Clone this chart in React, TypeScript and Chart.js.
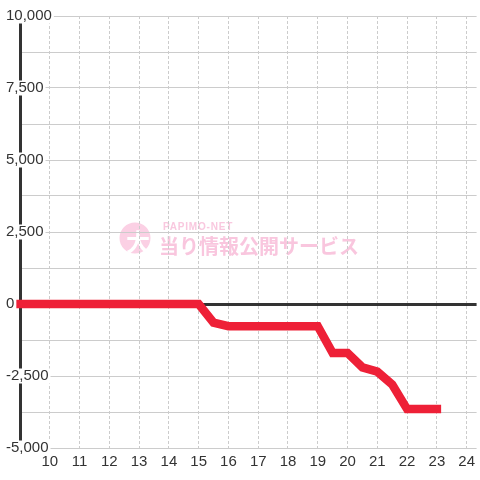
import React, { useEffect, useRef } from 'react';
import { Chart, registerables } from 'chart.js';

Chart.register(...registerables);

const hours = [
  9, 9.5, 10, 10.5, 11, 11.5, 12, 12.5, 13, 13.5, 14, 14.5, 15, 15.5, 16, 16.5,
  17, 17.5, 18, 18.5, 19, 19.5, 20, 20.5, 21, 21.5, 22, 22.5, 23,
];
const balance = [
  0, 0, 0, 0, 0, 0, 0, 0, 0, 0, 0, 0, 0, -650, -770, -770,
  -770, -770, -770, -770, -770, -1700, -1700, -2200, -2350, -2800, -3650, -3650, -3650,
];
const xTickLabels = [10, 11, 12, 13, 14, 15, 16, 17, 18, 19, 20, 21, 22, 23, 24];
const yMin = -5000;
const yMax = 10000;
const yGridStep = 1250;
const yLabelStep = 2500;
const xMin = 9;
const xMax = 24.3333;
const watermarkLogo = '大';
const watermarkBrand = 'PAPIMO-NET';
const watermarkText = '当り情報公開サービス';

export default function App() {
  const ref = useRef<HTMLCanvasElement>(null);

  useEffect(() => {
    document.body.style.margin = '0';
    const bgPlugin = {
      id: 'bgWatermark',
      beforeDraw(chart: any) {
        const ctx = chart.ctx as CanvasRenderingContext2D;
        ctx.save();
        ctx.fillStyle = '#ffffff';
        ctx.fillRect(0, 0, chart.width, chart.height);
        ctx.fillStyle = '#fbd0e4';
        ctx.beginPath();
        ctx.arc(135, 238, 15.5, 0, Math.PI * 2);
        ctx.fill();
        ctx.fillStyle = '#ffffff';
        ctx.font = 'bold 24px "Noto Sans CJK JP"';
        ctx.textAlign = 'center';
        ctx.textBaseline = 'middle';
        ctx.fillText(watermarkLogo, 138, 242);
        ctx.fillStyle = '#f9c8df';
        ctx.font = 'bold 10px "Liberation Sans"';
        ctx.textAlign = 'left';
        (ctx as any).letterSpacing = '0.8px';
        ctx.fillText(watermarkBrand, 163, 227);
        (ctx as any).letterSpacing = '0px';
        ctx.fillStyle = '#f9c6de';
        ctx.font = 'bold 20px "Noto Sans CJK JP"';
        ctx.fillText(watermarkText, 159, 246);
        ctx.restore();
      },
    };

    const chart = new Chart(ref.current!, {
      type: 'line',
      data: {
        datasets: [
          {
            data: hours.map((h, i) => ({ x: h, y: balance[i] })),
            borderColor: '#ee2037',
            borderWidth: 8.5,
            borderCapStyle: 'square',
            borderJoinStyle: 'miter',
            pointRadius: 0,
            tension: 0,
            fill: false,
            clip: 6,
          } as any,
        ],
      },
      plugins: [bgPlugin],
      options: {
        animation: false,
        responsive: false,
        devicePixelRatio: 1,
        layout: { padding: { left: 6, top: 16, right: 0, bottom: 0 } },
        plugins: { legend: { display: false }, tooltip: { enabled: false } },
        scales: {
          x: {
            type: 'linear',
            min: xMin,
            max: xMax,
            afterFit: (s: any) => {
              s.height = 32;
            },
            afterBuildTicks: (s: any) => {
              s.ticks = xTickLabels.map((v) => ({ value: v }));
            },
            grid: { color: '#cccccc', lineWidth: 1, drawTicks: false },
            border: { display: false, dash: [3, 2] },
            ticks: {
              padding: 5,
              color: '#333333',
              font: { family: '"Liberation Sans"', size: 15 },
              callback: (v: any) => String(v),
            },
          } as any,
          y: {
            type: 'linear',
            min: yMin,
            max: yMax,
            afterFit: (s: any) => {
              s.width = 14;
            },
            grid: {
              color: (c: any) => (c.tick && c.tick.value === 0 ? '#333333' : '#cccccc'),
              lineWidth: (c: any) => (c.tick && c.tick.value === 0 ? 3 : 1),
              drawTicks: false,
            },
            border: { display: true, color: '#333333', width: 3 },
            ticks: {
              stepSize: yGridStep,
              mirror: true,
              padding: -14,
              crossAlign: 'near',
              z: 1,
              color: '#333333',
              font: { family: '"Liberation Sans"', size: 15, lineHeight: 1 },
              showLabelBackdrop: true,
              backdropColor: '#ffffff',
              backdropPadding: { top: 0, bottom: 0, left: 1, right: 2 },
              callback: (v: any) =>
                Number(v) % yLabelStep === 0 ? Number(v).toLocaleString('en-US') : '',
            },
          } as any,
        },
      },
    });
    return () => chart.destroy();
  }, []);

  return (
    <div style={{ position: 'absolute', left: 0, top: 0, width: 480, height: 480 }}>
      <canvas ref={ref} width={480} height={480} style={{ display: 'block' }} />
    </div>
  );
}
